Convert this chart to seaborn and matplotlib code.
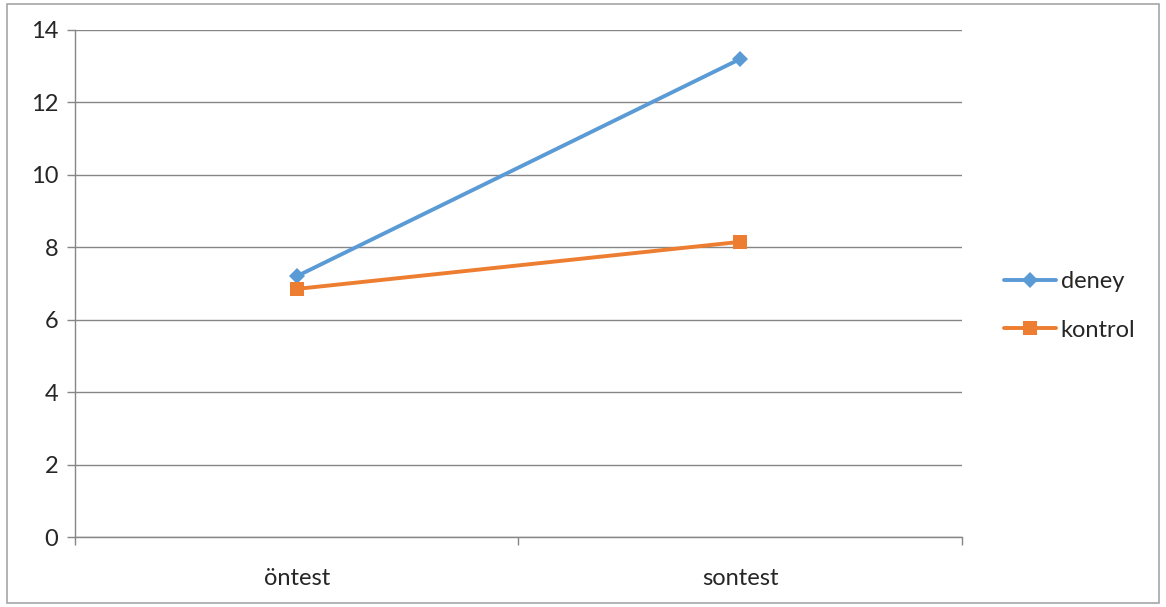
import matplotlib
matplotlib.use("Agg")
import matplotlib.pyplot as plt
import seaborn as sns
import pandas as pd
from matplotlib.lines import Line2D
from matplotlib.patches import Rectangle

categories = ["öntest", "sontest"]
deney = [7.2, 13.2]
kontrol = [6.85, 8.15]
series_names = ["deney", "kontrol"]
yticks = [0, 2, 4, 6, 8, 10, 12, 14]

sns.set_theme(style="white")
plt.rcParams["font.family"] = ["Lato", "DejaVu Sans"]

df = pd.DataFrame({
    "x": list(range(len(categories))) * 2,
    "y": deney + kontrol,
    "seri": [series_names[0]] * len(categories) + [series_names[1]] * len(categories),
})

colors = {"deney": "#5B9BD5", "kontrol": "#ED7D31"}
markers = {"deney": "D", "kontrol": "s"}

fig = plt.figure(figsize=(11.66, 6.07), dpi=100)
fig.patches.append(Rectangle((0.006, 0.006), 0.988, 0.988, transform=fig.transFigure,
                             fill=False, edgecolor="#A6A6A6", linewidth=1.2))
ax = fig.add_axes([0.0643, 0.1153, 0.7607, 0.8353])

sns.lineplot(data=df, x="x", y="y", hue="seri", style="seri", palette=colors,
             markers=markers, dashes=False, linewidth=2.8, markersize=9,
             markeredgewidth=0, ax=ax, legend=False)
for line in ax.lines:
    if line.get_marker() == "D":
        line.set_markersize(8)
    else:
        line.set_markersize(10)

ax.set_xlim(-0.5, len(categories) - 0.5)
ax.set_ylim(0, 14)
ax.set_yticks(yticks)
ax.set_yticklabels([str(v) for v in yticks], fontsize=17)
ax.set_xticks(range(len(categories)))
ax.set_xticklabels(categories, fontsize=17)
ax.set_xticks([-0.5, 0.5, 1.5], minor=True)
ax.tick_params(axis="x", which="major", bottom=True, length=0, pad=22)
ax.tick_params(axis="x", which="minor", bottom=True, length=6, color="#868686", width=1, direction="out")
ax.tick_params(axis="y", which="major", left=True, length=6, color="#868686", width=1, direction="out", pad=6)
ax.set_xlabel("")
ax.set_ylabel("")
ax.grid(axis="y", color="#868686", linewidth=1)
ax.set_axisbelow(True)
for s in ["top", "right"]:
    ax.spines[s].set_visible(False)
for s in ["left", "bottom"]:
    ax.spines[s].set_color("#868686")
    ax.spines[s].set_linewidth(1)

handles = [
    Line2D([], [], color=colors["deney"], marker="D", markersize=8, linewidth=2.8, markeredgewidth=0),
    Line2D([], [], color=colors["kontrol"], marker="s", markersize=10, linewidth=2.8, markeredgewidth=0),
]
fig.legend(handles, series_names, loc="center left", bbox_to_anchor=(0.843, 0.496),
           frameon=False, fontsize=17, handlelength=2.2, handletextpad=0.2,
           labelspacing=1.15)

fig.savefig("out.png", dpi=100)
